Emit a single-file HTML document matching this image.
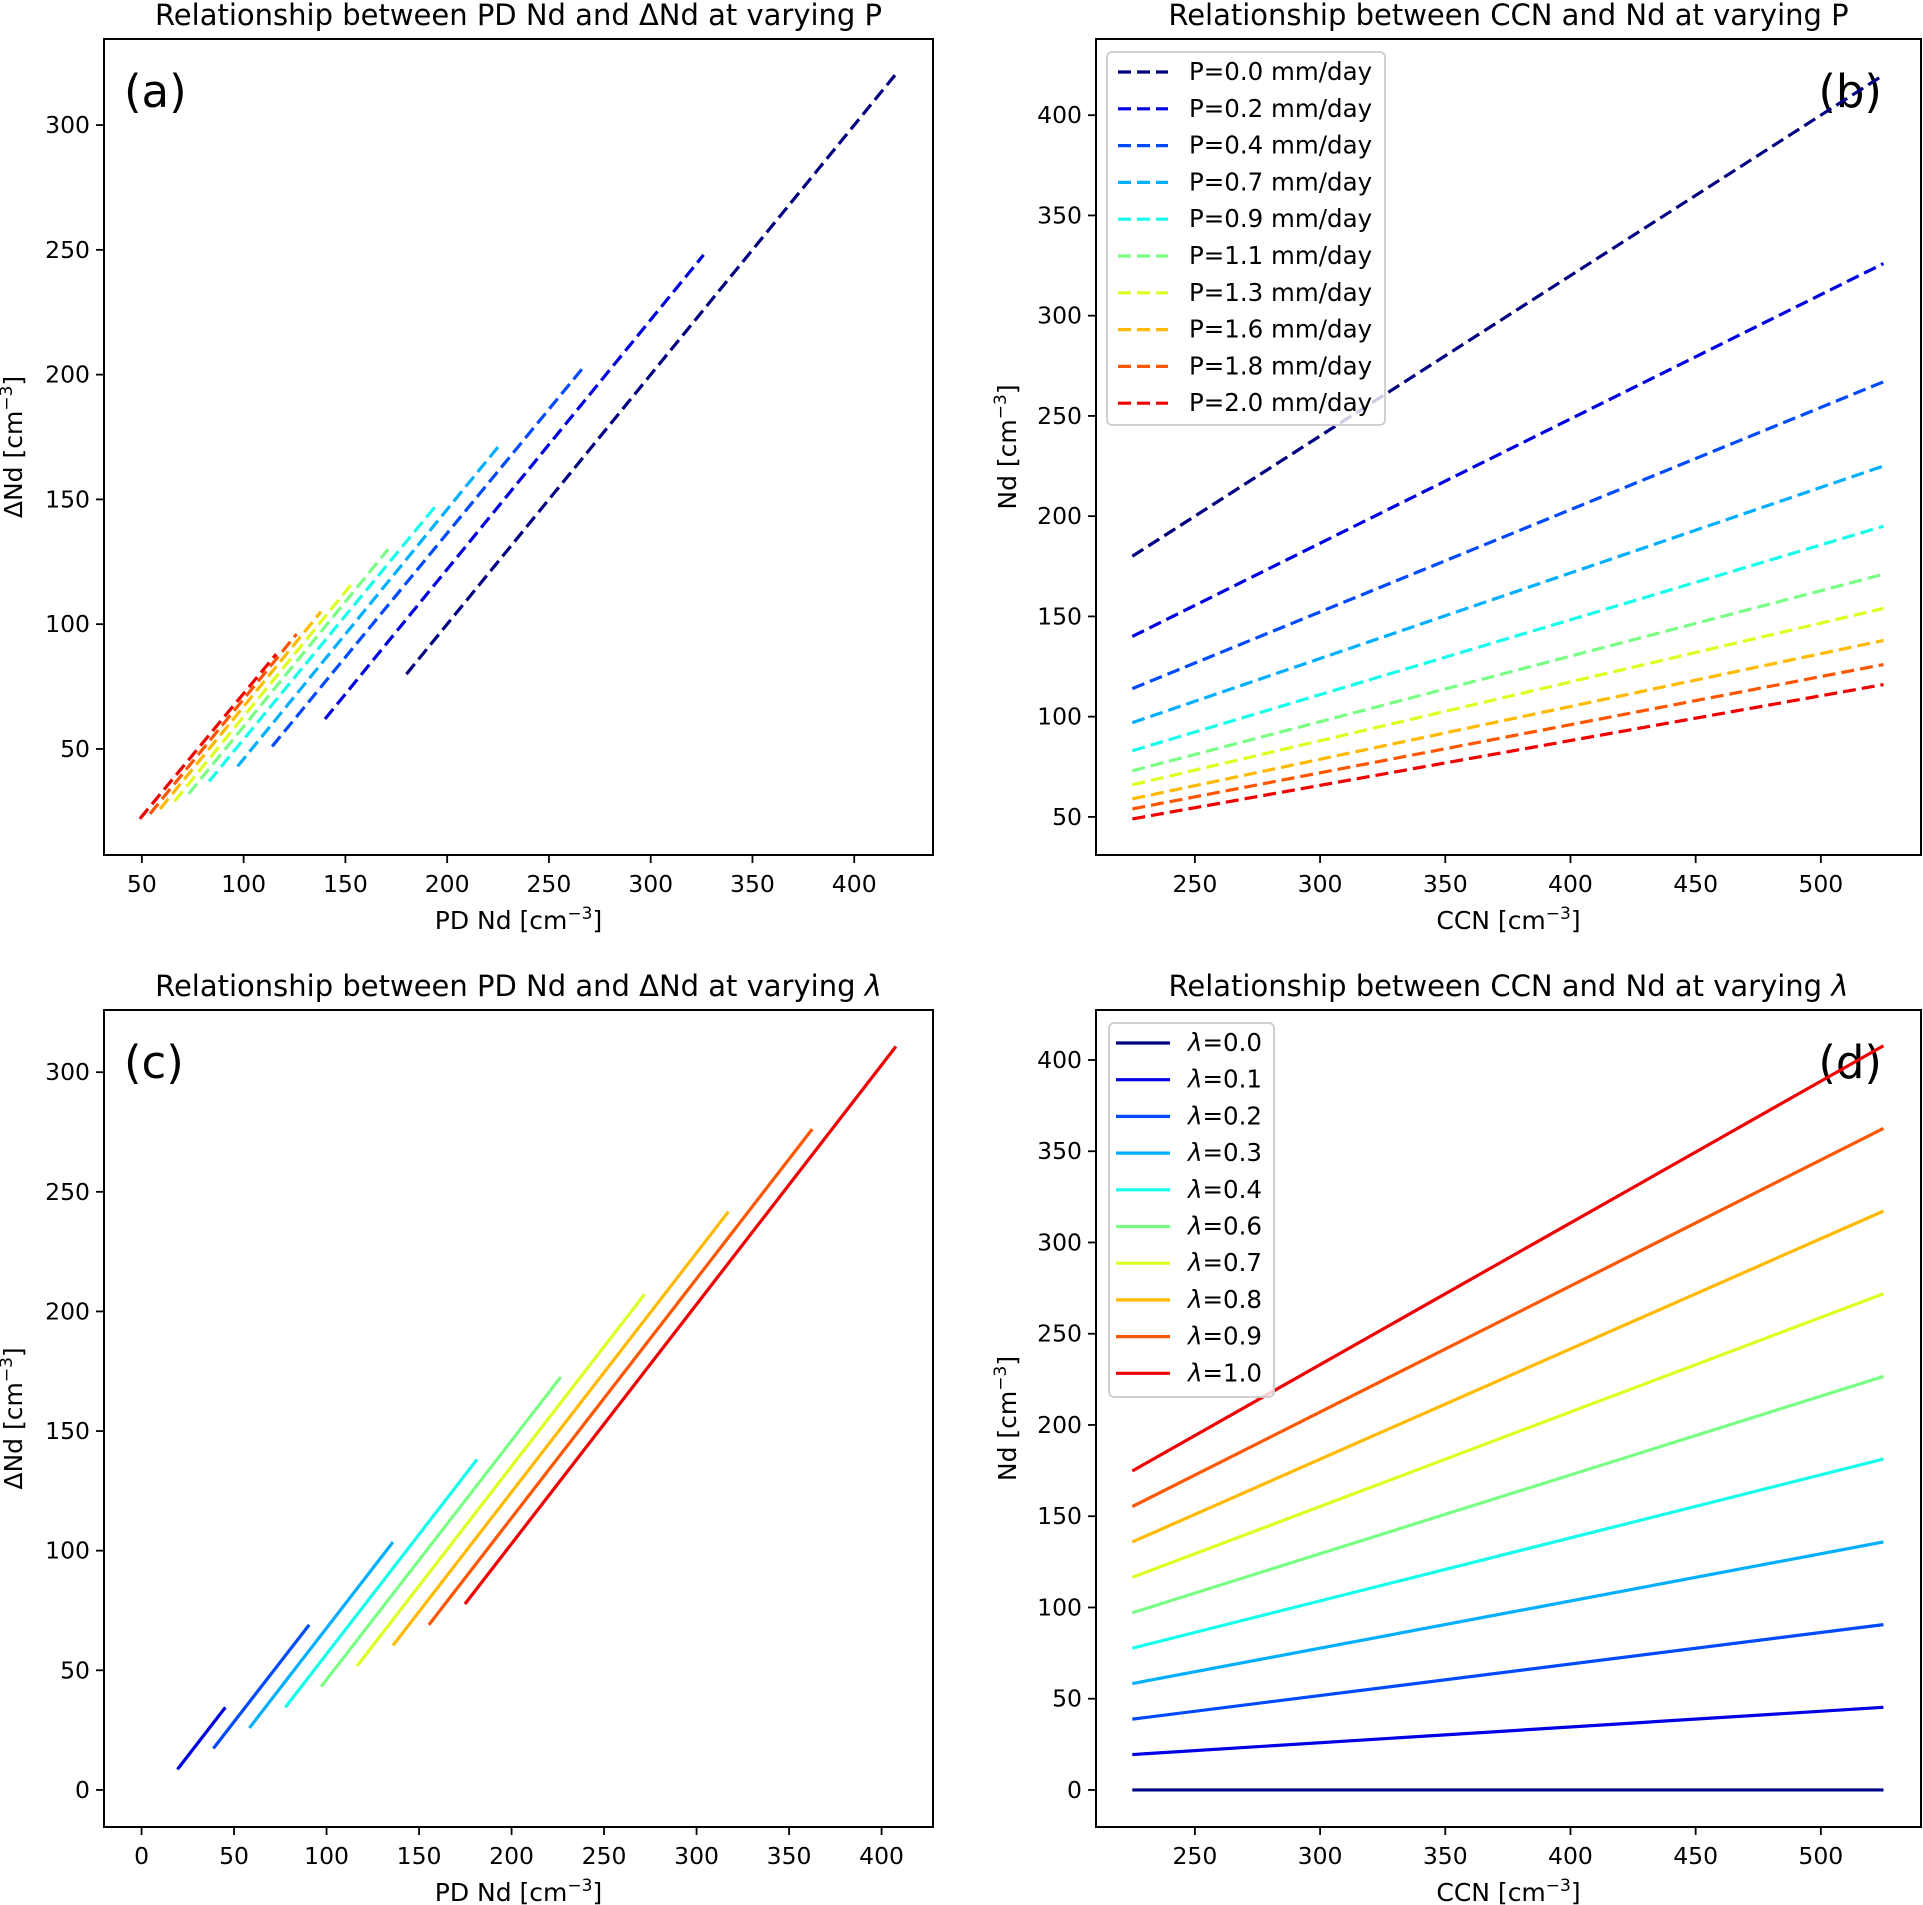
<!DOCTYPE html>
<html>
<head>
<meta charset="utf-8">
<style>
html,body{margin:0;padding:0;background:#fff;}
svg{display:block;}
text{font-family:"DejaVu Sans","Liberation Sans",sans-serif;fill:#000;}
</style>
</head>
<body>
<svg id="fig" xmlns="http://www.w3.org/2000/svg" width="1923" height="1905" viewBox="0 0 1923 1905"></svg>
<script>
// ---- data ----
const pLabels = ['0.0','0.2','0.4','0.7','0.9','1.1','1.3','1.6','1.8','2.0'];
const lamLabels = ['0.0','0.1','0.2','0.3','0.4','0.6','0.7','0.8','0.9','1.0'];
const ccnRange = [225, 525];
// panel (b): Nd at CCN start / end for each P
const ndStartP = [180,140,114,97,83,73,66,59,54,49];
const ndEndP   = [420,326,267,225,195,171,154,138,126,116];
// panel (a): PD Nd (x) and ΔNd (y) endpoints
const pdStartP = [180,140,114,97,83,73,66,59,54,49];
const pdEndP   = [420,326,267,225,195,171,154,138,126,116];
const dStartP  = [80,62,51,43,37,32,29,26,24,22];
const dEndP    = [320,248,203,171,148,130,117,105,96,88];
// panel (d): Nd at CCN start / end for each lambda
const ndStartL = [0,19.4,38.8,58.3,77.7,97.1,116.5,135.9,155.3,174.8];
const ndEndL   = [0,45.3,90.6,135.9,181.3,226.6,271.9,317.2,362.5,407.8];
// panel (c)
const pdStartL = [0,19.4,38.8,58.3,77.7,97.1,116.5,135.9,155.3,174.8];
const pdEndL   = [0,45.3,90.6,135.9,181.3,226.6,271.9,317.2,362.5,407.8];
const dStartL  = [0,8.6,17.3,25.9,34.5,43.2,51.8,60.4,69.0,77.7];
const dEndL    = [0,34.5,69.0,103.6,138.1,172.6,207.2,241.7,276.2,310.8];
const xTicksA = [50,100,150,200,250,300,350,400];
const yTicksA = [50,100,150,200,250,300];
const xTicksB = [250,300,350,400,450,500];
const yTicksB = [50,100,150,200,250,300,350,400];
const xTicksC = [0,50,100,150,200,250,300,350,400];
const yTicksC = [0,50,100,150,200,250,300];
const yTicksD = [0,50,100,150,200,250,300,350,400];

const NS = 'http://www.w3.org/2000/svg';
const svg = document.getElementById('fig');
function mk(tag, attrs, parent){
  const e = document.createElementNS(NS, tag);
  for (const k in attrs) e.setAttribute(k, attrs[k]);
  (parent||svg).appendChild(e);
  return e;
}
function jet(v){
  const c = t => Math.max(0, Math.min(1, t));
  const r = c(1.5 - Math.abs(4*v-3)), g = c(1.5 - Math.abs(4*v-2)), b = c(1.5 - Math.abs(4*v-1));
  return 'rgb(' + Math.round(r*255) + ',' + Math.round(g*255) + ',' + Math.round(b*255) + ')';
}
function col(i, n){ return jet(i/(n-1)*0.89); }
function unitLabel(parent, x, y, pre, rotate, name){
  const t = mk('text', {x:x, y:y, 'font-size':25, 'text-anchor':'middle'}, parent);
  if (rotate) t.setAttribute('transform', 'rotate(-90 ' + x + ' ' + y + ')');
  
  
  t.appendChild(document.createTextNode(pre + ' [cm'));
  const s = mk('tspan', {'baseline-shift':'super', 'font-size':17}, t);
  s.textContent = '\u22123';
  const s2 = mk('tspan', {'baseline-shift':'0'}, t);
  s2.textContent = ']';
  return t;
}

function panel(cfg){
  const g = mk('g', {});
  
  
  const L = cfg.box[0], T = cfg.box[1], R = cfg.box[2], B = cfg.box[3];
  const sx = v => L + (v - cfg.xlim[0]) / (cfg.xlim[1]-cfg.xlim[0]) * (R-L);
  const sy = v => B - (v - cfg.ylim[0]) / (cfg.ylim[1]-cfg.ylim[0]) * (B-T);
  const tt = mk('text', {x:(L+R)/2, y:T-14, 'font-size':29, 'text-anchor':'middle'}, g);
  
  
  tt.innerHTML = cfg.title;
  const pl = mk('text', {x:cfg.letterX, y:T+68, 'font-size':45, 'text-anchor':cfg.letterAnchor}, g);
  
  
  pl.textContent = cfg.letter;
  const xt = mk('g', {}, g);
  
  
  cfg.xticks.forEach(v => {
    const x = sx(v);
    mk('line', {x1:x, x2:x, y1:B, y2:B+8, stroke:'#000', 'stroke-width':1.8}, xt);
    const t = mk('text', {x:x, y:B+37, 'font-size':23.5, 'text-anchor':'middle'}, xt);
    
    
    t.textContent = v;
  });
  const yt = mk('g', {}, g);
  
  
  cfg.yticks.forEach(v => {
    const y = sy(v);
    mk('line', {x1:L-8, x2:L, y1:y, y2:y, stroke:'#000', 'stroke-width':1.8}, yt);
    const t = mk('text', {x:L-14, y:y+8, 'font-size':23.5, 'text-anchor':'end'}, yt);
    
    
    t.textContent = v;
  });
  unitLabel(g, (L+R)/2, B+74, cfg.xlabel, false, 'x-axis-title');
  unitLabel(g, cfg.ylabelX, (T+B)/2, cfg.ylabel, true, 'y-axis-title');
  const sg = mk('g', {}, g);
  
  
  const n = cfg.x0.length;
  for (let i = 0; i < n; i++){
    const ln = mk('line', {x1:sx(cfg.x0[i]), y1:sy(cfg.y0[i]), x2:sx(cfg.x1[i]), y2:sy(cfg.y1[i]),
      stroke:col(i, n), 'stroke-width':3.2, 'stroke-linecap':'butt'}, sg);
    if (cfg.dashed) ln.setAttribute('stroke-dasharray', '13 6');
    
    
  }
  if (cfg.legend){
    const lg = mk('g', {}, g);
    
    
    const lb = cfg.legend;
    mk('rect', {x:lb.x, y:lb.y, width:lb.w, height:lb.h, rx:5, fill:'#fff', 'fill-opacity':0.8, stroke:'#ccc', 'stroke-width':1.8}, lg);
    cfg.legendText.forEach((lab, i) => {
      const y = lb.first + i*lb.step;
      const h = mk('line', {x1:lb.hx0, x2:lb.hx1, y1:y, y2:y, stroke:col(i, n), 'stroke-width':3.2}, lg);
      if (cfg.dashed) h.setAttribute('stroke-dasharray', '13 6');
      
      
      const t = mk('text', {x:lb.tx, y:y+8, 'font-size':24.5}, lg);
      
      
      t.innerHTML = lab;
    });
  }
  const sp = mk('rect', {x:L, y:T, width:R-L, height:B-T, fill:'none', stroke:'#000', 'stroke-width':2}, g);
  
  
}

const pLeg = pLabels.map(p => 'P=' + p + ' mm/day');
const lLeg = lamLabels.map(l => '<tspan font-style="italic">\u03bb</tspan>=' + l);

panel({name:'panel-a', box:[104,39,933,855], xlim:[31.4,438.7], ylim:[7.5,334.5],
  xticks:xTicksA, yticks:yTicksA, title:'Relationship between PD Nd and \u0394Nd at varying P',
  letter:'(a)', letterX:124, letterAnchor:'start', xlabel:'PD Nd', ylabel:'\u0394Nd', ylabelX:22,
  x0:pdStartP, x1:pdEndP, y0:dStartP, y1:dEndP, dashed:true, labels:pLabels});
panel({name:'panel-b', box:[1096,39,1921,855], xlim:[210.5,540], ylim:[31,438],
  xticks:xTicksB, yticks:yTicksB, title:'Relationship between CCN and Nd at varying P',
  letter:'(b)', letterX:1882, letterAnchor:'end', xlabel:'CCN', ylabel:'Nd', ylabelX:1016,
  x0:ndStartP.map(()=>ccnRange[0]), x1:ndStartP.map(()=>ccnRange[1]), y0:ndStartP, y1:ndEndP, dashed:true, labels:pLabels,
  legendText:pLeg,
  legend:{x:1107,y:52,w:278,h:373,first:72,step:36.8,hx0:1118,hx1:1168,tx:1189}});
panel({name:'panel-c', box:[104,1010,933,1827], xlim:[-20.3,427.8], ylim:[-15.5,326],
  xticks:xTicksC, yticks:yTicksC, title:'Relationship between PD Nd and \u0394Nd at varying <tspan font-style="italic">\u03bb</tspan>',
  letter:'(c)', letterX:124, letterAnchor:'start', xlabel:'PD Nd', ylabel:'\u0394Nd', ylabelX:22,
  x0:pdStartL, x1:pdEndL, y0:dStartL, y1:dEndL, dashed:false, labels:lamLabels});
panel({name:'panel-d', box:[1096,1010,1921,1827], xlim:[210.5,540], ylim:[-20.3,427.4],
  xticks:xTicksB, yticks:yTicksD, title:'Relationship between CCN and Nd at varying <tspan font-style="italic">\u03bb</tspan>',
  letter:'(d)', letterX:1882, letterAnchor:'end', xlabel:'CCN', ylabel:'Nd', ylabelX:1016,
  x0:ndStartL.map(()=>ccnRange[0]), x1:ndStartL.map(()=>ccnRange[1]), y0:ndStartL, y1:ndEndL, dashed:false, labels:lamLabels,
  legendText:lLeg,
  legend:{x:1109,y:1023,w:165,h:374,first:1043,step:36.7,hx0:1116,hx1:1170,tx:1188}});
</script>
</body>
</html>
